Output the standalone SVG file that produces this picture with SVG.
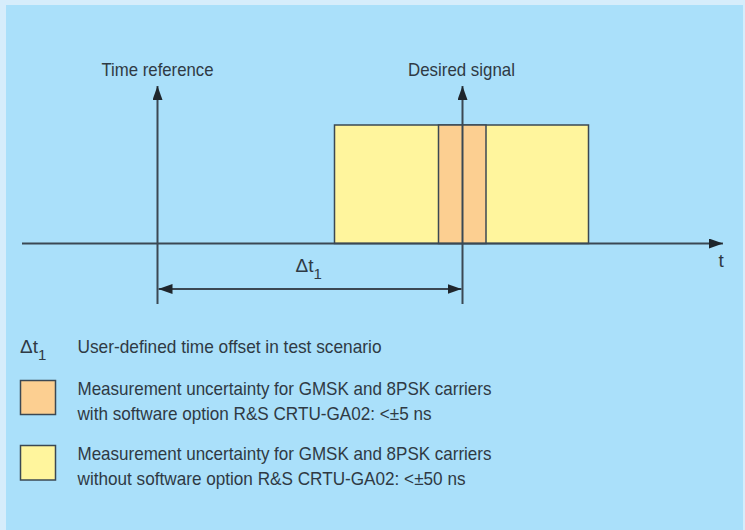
<svg xmlns="http://www.w3.org/2000/svg" width="745" height="530" viewBox="0 0 745 530">
<style>
.ln{stroke:#3b4853;stroke-width:2;fill:none}
.box{stroke:#3b4853;stroke-width:1.5}
.t{font-family:"Liberation Sans",Arial,sans-serif;font-size:19px;fill:#2f3a44}
</style>
<defs>
<marker id="ah" viewBox="0 0 14 10" refX="14" refY="5" markerWidth="14" markerHeight="10" markerUnits="userSpaceOnUse" orient="auto-start-reverse">
<path d="M0,0 L14,5 L0,10 Z" fill="#1f262c"/>
</marker>
</defs>
<rect width="745" height="530" fill="#d6edfb"/>
<rect x="6" y="5" width="737" height="525" fill="#aae0fa"/>
<g id="signal">
<rect x="334.5" y="125" width="254" height="118.5" fill="#fff59d" class="box"/>
<rect x="438.5" y="125" width="47.5" height="118.5" fill="#fccf91" class="box"/>
</g>
<g id="connectors">
<line x1="22" y1="243.5" x2="723" y2="243.5" class="ln" marker-end="url(#ah)"/>
<line x1="157.5" y1="304" x2="157.5" y2="86" class="ln" marker-end="url(#ah)"/>
<line x1="462.5" y1="304" x2="462.5" y2="86" class="ln" marker-end="url(#ah)"/>
<line x1="158.5" y1="289" x2="461.5" y2="289" class="ln" marker-start="url(#ah)" marker-end="url(#ah)"/>
</g>
<g id="labels">
<text class="t" x="101.5" y="76" textLength="112" lengthAdjust="spacingAndGlyphs">Time reference</text>
<text class="t" x="408" y="76" textLength="107" lengthAdjust="spacingAndGlyphs">Desired signal</text>
<text class="t" x="718.5" y="267">t</text>
<text class="t" x="295.5" y="272">Δt<tspan font-size="15" dy="7">1</tspan></text>
</g>
<g id="legend-dt">
<text class="t" x="20" y="353">Δt<tspan font-size="15" dy="7">1</tspan></text>
<text class="t" x="77.5" y="353" textLength="304" lengthAdjust="spacingAndGlyphs">User-defined time offset in test scenario</text>
</g>
<g id="legend-orange">
<rect x="20.5" y="380.5" width="35" height="34" fill="#fccf91" class="box"/>
<text class="t" x="77.5" y="395" textLength="414" lengthAdjust="spacingAndGlyphs">Measurement uncertainty for GMSK and 8PSK carriers</text>
<text class="t" x="77.5" y="420" textLength="354" lengthAdjust="spacingAndGlyphs">with software option R&amp;S CRTU-GA02: &lt;±5 ns</text>
</g>
<g id="legend-yellow">
<rect x="20.5" y="445.5" width="35" height="34.5" fill="#fff59d" class="box"/>
<text class="t" x="77.5" y="460" textLength="414" lengthAdjust="spacingAndGlyphs">Measurement uncertainty for GMSK and 8PSK carriers</text>
<text class="t" x="77.5" y="485" textLength="388" lengthAdjust="spacingAndGlyphs">without software option R&amp;S CRTU-GA02: &lt;±50 ns</text>
</g>
</svg>
